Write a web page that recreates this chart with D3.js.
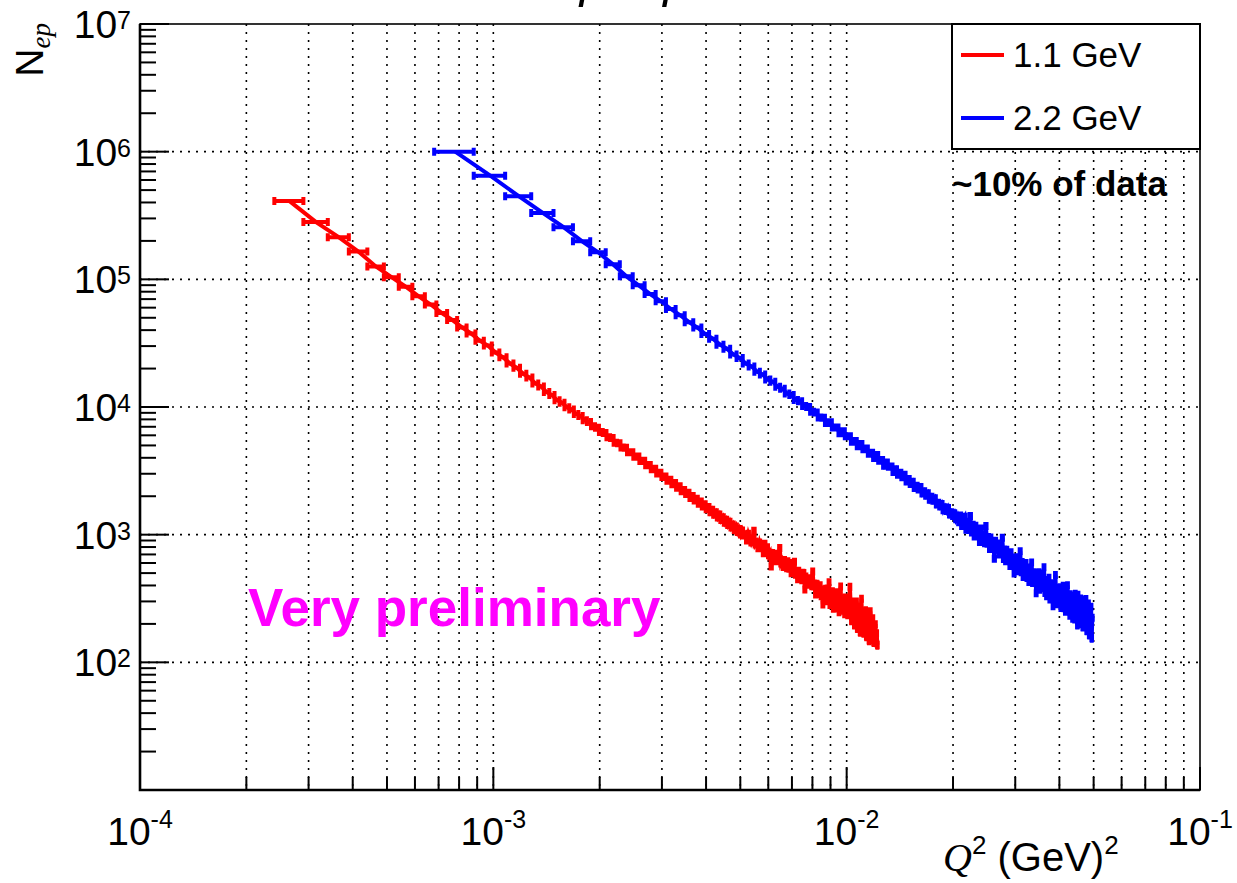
<!DOCTYPE html>
<html>
<head>
<meta charset="utf-8">
<title>N_ep vs Q2</title>
<style>
  body { margin: 0; background: #fff; }
  text { font-family: "Liberation Sans", Arial, Helvetica, sans-serif; }
</style>
</head>
<body>
<svg id="chart" width="1237" height="883"></svg>
<script src="https://cdn.jsdelivr.net/npm/d3@7"></script>
<script>
// counts per Q2 bin (1.1 GeV run)
const redCounts = [
  410000,281000,214000,165000,126000,104000,87500,73600,63500,54400,
  48100,42000,37700,33100,30300,26700,24500,21900,20300,18200,
  17000,15300,14500,13100,12400,11300,10800,9950,9560,8830,
  8510,7870,7620,7060,6880,6360,6260,5790,5720,5240,
  5210,4820,4790,4430,4420,4080,4090,3770,3790,3490,
  3520,3250,3280,3020,3060,2830,2860,2650,2690,2480,
  2540,2330,2390,2190,2240,2080,2130,1940,2010,1850,
  1910,1750,1820,1660,1730,1580,1650,1500,1570,1430,
  1500,1360,1440,1300,1370,1240,1310,1190,1260,1140,
  1200,1090,1160,1050,1110,1004,1076,985,1006,899,
  1015,931,868,933,1075,839,874,784,869,797,
  807,716,850,729,798,691,722,562,720,661,
  710,620,668,626,786,595,622,559,633,583,
  546,620,541,600,499,550,516,614,486,515,
  448,522,470,497,439,503,500,372,470,424,
  449,405,455,420,394,515,392,415,340,413,
  377,391,342,401,330,370,284,372,340,377,
  301,379,312,424,281,353,304,361,263,341,
  297,264,354,273,318,247,321,392,254,307,
  259,317,238,322,265,320,234,303,260,391,
  275,210,294,230,300,195,264,210,300,183,
  250,194,272,172,237,315,183,251,169,234,
  182,256,159,226,172,238,148,205,251,157,
  213,158,221,144,193,149,199,143,169,137
];
// 2.2 GeV run
const blueCounts = [
  1000000,649000,448000,331000,256000,199000,163000,131000,105500,89800,
  76700,67300,58600,52300,46200,41900,37300,34300,30800,28600,
  25800,24200,21900,20800,18900,18000,16400,15800,14400,13900,
  12750,12400,11350,11100,10180,9990,9160,9050,8290,8240,
  7490,7600,6920,6900,6220,6470,5910,5910,5350,5420,
  4920,5130,4660,4730,4310,4380,3980,4210,3800,3840,
  3460,3670,3400,3420,3100,3260,2950,3050,2820,2940,
  2610,2730,2490,2600,2320,2420,2260,2360,2100,2190,
  2020,2110,1880,1980,1840,1930,1720,1780,1660,1740,
  1550,1640,1530,1620,1440,1500,1400,1470,1320,1400,
  1252,1410,1167,1321,1383,1091,1261,1087,1401,1038,
  1197,969,1177,999,1106,875,1120,924,1006,857,
  1170,847,959,773,952,798,886,647,897,762,
  851,698,794,705,945,646,765,619,761,647,
  711,568,728,589,662,497,661,561,666,517,
  614,742,507,612,466,568,502,601,458,554,
  426,550,459,605,418,508,431,487,348,506,
  402,507,371,465,383,497,383,555,349,441,
  330,423,356,460,311,411,352,417,275,379,
  319,483,304,384,285,362,299,387,267,362,
  282,398,265,338,249,354,282,401,259,329,
  232,341,257,307,219,320,333,217,344,227,
  297,195,339,228,296,199,316,227,300,188,
  271,200,310,206,313,176,275,194,289,164,
  244,179,272,155,223
];
// histogram binning (GeV^2)
const redQ2Start = 2.4e-4, redQ2Step = 5e-5;
const blueQ2Start = 6.8e-4, blueQ2Step = 2e-4;
const seriesNames = ["1.1 GeV", "2.2 GeV"];
const xTickPowers = [-4, -3, -2, -1];
const yTickPowers = [2, 3, 4, 5, 6, 7];

const plot = { left: 140, right: 1200, top: 24, bottom: 790 };
const svg = d3.select("#chart");
const x = d3.scaleLog().domain([1e-4, 1e-1]).range([plot.left, plot.right]);
const y = d3.scaleLog().domain([1e1, 1e7]).range([plot.bottom, plot.top]);

function makeBins(start, step, counts) {
  return counts.map((n, i) => ({
    lo: start + i * step,
    hi: start + (i + 1) * step,
    mid: start + (i + 0.5) * step,
    n: n
  }));
}

// grid
const grid = svg.append("g")
  .attr("stroke", "#000").attr("stroke-width", 1.6).attr("stroke-dasharray", "2,6");
const xt = x.ticks();
xt.slice(1, xt.length - 1).forEach(v => {
  grid.append("line").attr("x1", x(v)).attr("x2", x(v))
    .attr("y1", plot.top).attr("y2", plot.bottom);
});
yTickPowers.slice(0, -1).forEach(p => {
  grid.append("line").attr("x1", plot.left).attr("x2", plot.right)
    .attr("y1", y(Math.pow(10, p))).attr("y2", y(Math.pow(10, p)));
});

// data: bin bars with end caps, stat error, line through bin centres
function drawSeries(bins, color) {
  const g = svg.append("g").attr("stroke", color).attr("fill", "none")
    .attr("stroke-width", 4);
  const bars = d3.path();
  bins.forEach(b => {
    const yy = y(b.n), x0 = x(b.lo), x1 = x(b.hi);
    bars.moveTo(x0, yy); bars.lineTo(x1, yy);
    bars.moveTo(x0, yy - 4); bars.lineTo(x0, yy + 4);
    bars.moveTo(x1, yy - 4); bars.lineTo(x1, yy + 4);
    const e = Math.sqrt(b.n);
    bars.moveTo(x(b.mid), y(b.n + e)); bars.lineTo(x(b.mid), y(b.n - e));
  });
  g.append("path").attr("d", bars.toString());
  g.append("path").datum(bins)
    .attr("d", d3.line().x(d => x(d.mid)).y(d => y(d.n)));
}
drawSeries(makeBins(redQ2Start, redQ2Step, redCounts), "#ff0000");
drawSeries(makeBins(blueQ2Start, blueQ2Step, blueCounts), "#0000ff");

// frame
svg.append("rect").attr("x", plot.left).attr("y", plot.top)
  .attr("width", plot.right - plot.left).attr("height", plot.bottom - plot.top)
  .attr("fill", "none").attr("stroke", "#000").attr("stroke-width", 1.6);
svg.append("path")
  .attr("d", `M${plot.left},${plot.top}V${plot.bottom}H${plot.right}`)
  .attr("fill", "none").attr("stroke", "#000").attr("stroke-width", 2.6);

// ticks
const ticks = svg.append("g").attr("stroke", "#000").attr("stroke-width", 2);
xt.forEach(v => {
  const major = Math.abs(Math.log10(v) - Math.round(Math.log10(v))) < 1e-6;
  ticks.append("line").attr("x1", x(v)).attr("x2", x(v))
    .attr("y1", plot.bottom).attr("y2", plot.bottom - (major ? 23 : 13));
});
y.ticks().forEach(v => {
  const major = Math.abs(Math.log10(v) - Math.round(Math.log10(v))) < 1e-6;
  ticks.append("line").attr("y1", y(v)).attr("y2", y(v))
    .attr("x1", plot.left).attr("x2", plot.left + (major ? 29 : 16));
});

// tick labels
function powLabel(t, p, rise) {
  t.append("tspan").text("10");
  t.append("tspan").attr("font-size", 25).attr("dy", -rise).text(p);
}
xTickPowers.forEach(p => {
  const t = svg.append("text").attr("x", x(Math.pow(10, p))).attr("y", 845)
    .attr("text-anchor", "middle").attr("font-size", 39);
  powLabel(t, p, 17);
});
yTickPowers.forEach(p => {
  const t = svg.append("text").attr("x", 131).attr("y", y(Math.pow(10, p)) + 14)
    .attr("text-anchor", "end").attr("font-size", 39);
  powLabel(t, p, 9);
});

// axis titles
const yt = svg.append("text").attr("transform", "translate(43,23) rotate(-90)")
  .attr("text-anchor", "end").attr("font-size", 39);
yt.append("tspan").text("N");
yt.append("tspan").attr("dy", 7).attr("font-size", 27)
  .attr("font-family", "Liberation Serif, serif").attr("font-style", "italic").text("ep");

const xtl = svg.append("text").attr("x", 943).attr("y", 871)
  .attr("text-anchor", "start").attr("font-size", 40);
xtl.append("tspan").attr("font-family", "Liberation Serif, serif")
  .attr("font-style", "italic").text("Q");
xtl.append("tspan").attr("font-size", 26).attr("dy", -17).text("2");
xtl.append("tspan").attr("dy", 17).text(" (GeV)");
xtl.append("tspan").attr("font-size", 26).attr("dy", -17).text("2");

// title, mostly above the top edge of the picture
svg.append("text").attr("x", 552).attr("y", -3)
  .attr("font-family", "Liberation Serif, serif").attr("font-style", "italic")
  .attr("font-size", 50).text("ep\u2013ep");

// legend
const lg = svg.append("g");
lg.append("rect").attr("x", 952).attr("y", 24).attr("width", 248).attr("height", 125)
  .attr("fill", "#fff").attr("stroke", "#000").attr("stroke-width", 2);
[["#ff0000", 55], ["#0000ff", 118]].forEach((c, i) => {
  lg.append("line").attr("x1", 961).attr("x2", 1004).attr("y1", c[1]).attr("y2", c[1])
    .attr("stroke", c[0]).attr("stroke-width", 4);
  lg.append("text").attr("x", 1013).attr("y", c[1] + 12).attr("font-size", 35)
    .text(seriesNames[i]);
});

svg.append("text").attr("x", 952).attr("y", 196).attr("font-size", 35)
  .attr("font-weight", "bold").text("~10% of data");
svg.append("text").attr("x", 248).attr("y", 626).attr("font-size", 53)
  .attr("font-weight", "bold").attr("fill", "#ff00ff").text("Very preliminary");
</script>
</body>
</html>
